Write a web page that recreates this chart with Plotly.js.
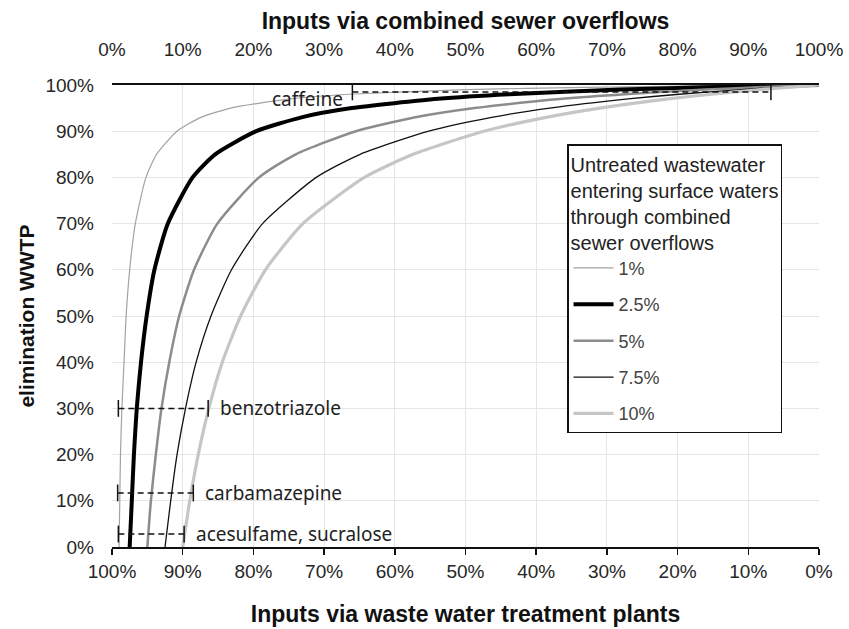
<!DOCTYPE html>
<html>
<head>
<meta charset="utf-8">
<script src="https://cdn.plot.ly/plotly-3.0.1.min.js"></script>
<style>html,body{margin:0;padding:0;background:#fff;}#chart{width:849px;height:629px;}</style>
</head>
<body>
<div id="chart"></div>
<script>
// elimination in WWTP (y)
var elimination = [0, 0.1, 0.2, 0.3, 0.4, 0.5, 0.6, 0.7, 0.8, 0.85, 0.9, 0.93, 0.95, 0.97, 0.98, 0.99, 0.995, 0.998, 1];
// share of inputs via combined sewer overflows (top axis) for each CSO scenario
var cso1  = [0.010, 0.011, 0.012, 0.014, 0.017, 0.020, 0.025, 0.033, 0.048, 0.063, 0.092, 0.126, 0.168, 0.252, 0.336, 0.503, 0.669, 0.835, 1];
var cso25 = [0.025, 0.028, 0.031, 0.035, 0.041, 0.049, 0.060, 0.079, 0.114, 0.146, 0.204, 0.268, 0.339, 0.461, 0.562, 0.719, 0.837, 0.928, 1];
var cso5  = [0.050, 0.055, 0.062, 0.070, 0.081, 0.095, 0.116, 0.149, 0.208, 0.260, 0.345, 0.429, 0.513, 0.637, 0.725, 0.840, 0.913, 0.963, 1];
var cso75 = [0.075, 0.083, 0.092, 0.104, 0.119, 0.140, 0.169, 0.213, 0.289, 0.351, 0.448, 0.537, 0.619, 0.730, 0.802, 0.890, 0.942, 0.976, 1];
var cso10 = [0.100, 0.110, 0.122, 0.137, 0.156, 0.182, 0.217, 0.270, 0.357, 0.426, 0.526, 0.614, 0.690, 0.787, 0.848, 0.917, 0.957, 0.982, 1];
var seriesNames = ["1%", "2.5%", "5%", "7.5%", "10%"];

// substance ranges (dashed bars)
var substances = ["caffeine", "benzotriazole", "carbamazepine", "acesulfame, sucralose"];
var substanceElim = [0.985, 0.30, 0.117, 0.028];
var substanceLo = [0.34, 0.009, 0.008, 0.009];
var substanceHi = [0.932, 0.136, 0.115, 0.102];

// axis ticks
var tickVals = [0, 0.1, 0.2, 0.3, 0.4, 0.5, 0.6, 0.7, 0.8, 0.9, 1];
var tickText = ["0%", "10%", "20%", "30%", "40%", "50%", "60%", "70%", "80%", "90%", "100%"];

var styles = [
  {color: "#a3a3a3", width: 1.2},
  {color: "#000000", width: 4},
  {color: "#8c8c8c", width: 2.5},
  {color: "#111111", width: 1.3},
  {color: "#c6c6c6", width: 3.2}
];
var series = [cso1, cso25, cso5, cso75, cso10];

var traces = [];
// invisible trace to anchor bottom axis
traces.push({x: [0, 1], y: [0, 0], xaxis: "x", yaxis: "y", mode: "lines", line: {width: 0}, hoverinfo: "skip", showlegend: false, opacity: 0});

for (var i = 0; i < series.length; i++) {
  traces.push({
    x: series[i], y: elimination, xaxis: "x2", yaxis: "y",
    mode: "lines", name: seriesNames[i], legendgroup: "g" + i,
    line: {color: styles[i].color, width: styles[i].width, shape: "spline", smoothing: 0.6}
  });
}

var labelFont = {family: "Noto Sans, Open Sans, sans-serif", size: 19, color: "#222"};
var annotations = [];
for (var j = 0; j < substances.length; j++) {
  traces.push({
    x: [substanceLo[j], substanceHi[j]], y: [substanceElim[j], substanceElim[j]],
    xaxis: "x2", yaxis: "y", mode: "lines+markers", showlegend: false, hoverinfo: "skip",
    line: {color: "#111", width: 1.5, dash: "6px,4px"},
    marker: {symbol: "line-ns", size: 12, line: {color: "#111", width: 1.5}}
  });
  if (j === 0) {
    annotations.push({x: substanceLo[j], y: substanceElim[j], xref: "x2", yref: "y", text: substances[j],
      showarrow: false, xanchor: "right", yanchor: "middle", xshift: -7, yshift: -7, font: labelFont});
  } else {
    annotations.push({x: substanceHi[j], y: substanceElim[j], xref: "x2", yref: "y", text: substances[j],
      showarrow: false, xanchor: "left", yanchor: "middle", xshift: 10, font: labelFont});
  }
}

var tickFont = {family: "Liberation Sans, Arial, sans-serif", size: 19, color: "#262626"};
var titleFont = {family: "Liberation Sans, Arial, sans-serif", size: 23, color: "#111", weight: "bold"};

var layout = {
  width: 849, height: 629,
  margin: {l: 112, r: 30, t: 85, b: 82},
  paper_bgcolor: "#fff", plot_bgcolor: "#fff",
  showlegend: true,
  xaxis: {
    range: [1, 0], tickvals: tickVals, ticktext: tickText.slice(), // WWTP share
    tickfont: tickFont, showgrid: true, gridcolor: "#e6e6e6", gridwidth: 1,
    zeroline: false, showline: true, linecolor: "#111", linewidth: 2,
    ticks: "outside", ticklen: 6, tickcolor: "#111", tickwidth: 1.5,
    ticklabelstandoff: 0,
    title: {text: "Inputs via waste water treatment plants", font: titleFont, standoff: 25}
  },
  xaxis2: {
    range: [0, 1], overlaying: "x", side: "top", anchor: "y",
    tickvals: tickVals, ticktext: tickText, tickfont: tickFont,
    showgrid: false, zeroline: false, showline: true, linecolor: "#111", linewidth: 2,
    ticks: "", ticklabelstandoff: 19,
    title: {text: "Inputs via combined sewer overflows", font: titleFont, standoff: 3}
  },
  yaxis: {
    range: [0, 1], tickvals: tickVals, ticktext: tickText, tickfont: tickFont,
    showgrid: true, gridcolor: "#e6e6e6", gridwidth: 1, zeroline: false, showline: false,
    ticks: "", ticklabelstandoff: 17,
    title: {text: "elimination WWTP", font: {family: "Liberation Sans, Arial, sans-serif", size: 21, color: "#111", weight: "bold"}, standoff: 5}
  },
  legend: {
    x: 0.6436, y: 0.872, xanchor: "left", yanchor: "top",
    bgcolor: "#fff", bordercolor: "#111", borderwidth: 1.5,
    font: {family: "Liberation Sans, Arial, sans-serif", size: 18, color: "#444"},
    title: {text: "Untreated wastewater<br>entering surface waters<br>through combined<br>sewer overflows",
      font: {family: "Liberation Sans, Arial, sans-serif", size: 20, color: "#222"}},
    tracegroupgap: 10, itemwidth: 40
  },
  annotations: annotations
};

Plotly.newPlot("chart", traces, layout, {displayModeBar: false, staticPlot: true});
</script>
</body>
</html>
